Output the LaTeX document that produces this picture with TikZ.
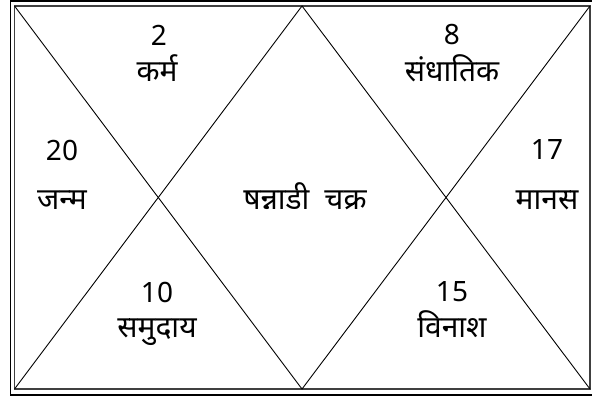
\documentclass[tikz,border=0pt]{standalone}
\usepackage{fontspec}
\setmainfont{Noto Sans}
\newfontfamily\deva[Script=Devanagari]{Noto Sans}
\begin{document}
\begin{tikzpicture}[x=1pt,y=-1pt,
  numtxt/.style={font=\fontsize{28}{30}\selectfont, inner sep=0pt, anchor=center},
  devtxt/.style={font=\deva\fontsize{30}{34}\selectfont, inner sep=0pt, anchor=base},
  diag/.style={draw=black, line width=0.9pt}]
\useasboundingbox (0,0) rectangle (592,401);
\fill[white] (0,0) rectangle (592,401);
% borders
\draw[line width=1.8pt, black] (10.5,1) rectangle (595,395);
\draw[line width=1.4pt, black!75] (14.5,6) rectangle (590,389);
% corners
\coordinate (tl) at (14.5,6);
\coordinate (tr) at (590,6);
\coordinate (bl) at (14.5,389);
\coordinate (br) at (590,389);
\coordinate (tm) at (302,6);
\coordinate (bm) at (302,389);
\draw[diag] (tl) -- (bm) -- (tr);
\draw[diag] (bl) -- (tm) -- (br);
% texts
\node[numtxt] (n2) at (159,35) {2};
\node[devtxt] (t2) at (157,82) {कर्म};
\node[numtxt] (n8) at (452,35) {8};
\node[devtxt] (t8) at (452,82) {संधातिक};
\node[numtxt] (n20) at (62,150) {20};
\node[devtxt] (t20) at (62,209) {जन्म};
\node[numtxt] (n17) at (547,150) {17};
\node[devtxt] (t17) at (547,209) {मानस};
\node[devtxt] (tc) at (305,209) {षन्नाडी\hspace{0.5em}चक्र};
\node[numtxt] (n10) at (157,292) {10};
\node[devtxt] (t10) at (157,337) {समुदाय};
\node[numtxt] (n15) at (452,292) {15};
\node[devtxt] (t15) at (452,337) {विनाश};
\end{tikzpicture}
\end{document}
